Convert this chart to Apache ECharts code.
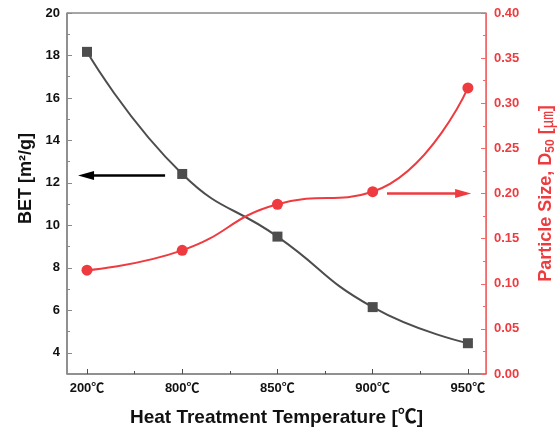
<!DOCTYPE html>
<html><head><meta charset="utf-8">
<script src="https://cdn.jsdelivr.net/npm/echarts@6/dist/echarts.min.js"></script>
<style>html,body{margin:0;padding:0;background:#fff}#c{width:557px;height:428px}</style>
</head><body><div id="c"></div>
<script>
const temps = ['200℃', '800℃', '850℃', '900℃', '950℃'];
const bet = [18.17, 12.42, 9.47, 6.15, 4.45];
const particle = [0.115, 0.137, 0.188, 0.202, 0.317];
const betTicks = [4, 6, 8, 10, 12, 14, 16, 18, 20];
const betMinor = [5, 7, 9, 11, 13, 15, 17, 19];
const psTicks = [0, 0.05, 0.1, 0.15, 0.2, 0.25, 0.3, 0.35, 0.4];
const psMinor = [0.025, 0.075, 0.125, 0.175, 0.225, 0.275, 0.325, 0.375];
const xIdx = temps.map((t, i) => i);
const xMinor = [0.5, 1.5, 2.5, 3.5];
const betArrow = [[0.82, 12.35], [-0.01, 12.35]];
const psArrow = [[3.15, 0.2], [3.95, 0.2]];

const F = "'Liberation Sans', Arial, 'Noto Sans CJK KR', sans-serif";
const GRAY = '#4d4d4d', RED = '#ee3b3f', AXG = '#8a8a8a', AXR = '#f26a6a';
const chart = echarts.init(document.getElementById('c'));
const xBase = {type: 'value', min: -0.21, max: 4.19, splitLine: {show: false}};
chart.setOption({
  animation: false,
  grid: {left: 67, right: 71, top: 13, bottom: 54, outerBoundsMode: 'none', containLabel: false,
    show: true, borderColor: GRAY, borderWidth: 1},
  xAxis: [
    Object.assign({}, xBase, {
      position: 'bottom',
      name: 'Heat Treatment Temperature [℃]', nameLocation: 'middle', nameGap: 34,
      nameTextStyle: {fontFamily: F, fontWeight: 'bold', fontSize: 19, color: '#111'},
      axisLine: {onZero: false, lineStyle: {color: AXG, width: 1.5}},
      axisTick: {inside: true, length: 5, lineStyle: {color: GRAY}, customValues: xIdx},
      axisLabel: {customValues: xIdx, formatter: v => temps[Math.round(v)], fontFamily: F, fontWeight: 'bold', fontSize: 13, color: '#111', margin: 8}
    }),
    Object.assign({}, xBase, {
      position: 'bottom',
      axisLine: {show: false, onZero: false},
      axisTick: {inside: true, length: 3, lineStyle: {color: GRAY}, customValues: xMinor},
      axisLabel: {show: false}
    })
  ],
  yAxis: [
    {type: 'value', min: 3, max: 20, position: 'left', splitLine: {show: false},
      name: 'BET [m²/g]', nameLocation: 'middle', nameGap: 27,
      nameTextStyle: {fontFamily: F, fontWeight: 'bold', fontSize: 18, color: '#111', padding: [0, 0, 0, 30]},
      axisLine: {show: true, onZero: false, lineStyle: {color: AXG, width: 1.5}},
      axisTick: {inside: true, length: 5, lineStyle: {color: AXG}, customValues: betTicks},
      axisLabel: {customValues: betTicks, fontFamily: F, fontWeight: 'bold', fontSize: 13, color: '#111', margin: 7}
    },
    {type: 'value', min: 0, max: 0.4, position: 'right', splitLine: {show: false},
      name: '{t|Particle Size, D}{s|50}{t| [}{u|㎛}{t|]}', nameLocation: 'middle', nameGap: 50,
      nameTextStyle: {color: RED, rich: {
        t: {fontFamily: F, fontWeight: 'bold', fontSize: 18, color: RED},
        s: {fontFamily: F, fontWeight: 'bold', fontSize: 12, color: RED, padding: [9, 0, 0, 0]},
        u: {fontFamily: "'Noto Sans CJK KR', sans-serif", fontSize: 17, color: RED}
      }},
      axisLine: {show: true, onZero: false, lineStyle: {color: AXR, width: 1}},
      axisTick: {inside: true, length: 5, lineStyle: {color: AXR}, customValues: psTicks},
      axisLabel: {customValues: psTicks, formatter: v => v.toFixed(2), fontFamily: F, fontWeight: 'bold', fontSize: 13, color: RED, margin: 8}
    },
    {type: 'value', min: 3, max: 20, position: 'left', splitLine: {show: false},
      axisLine: {show: false, onZero: false},
      axisTick: {inside: true, length: 3, lineStyle: {color: AXG}, customValues: betMinor},
      axisLabel: {show: false}
    },
    {type: 'value', min: 0, max: 0.4, position: 'right', splitLine: {show: false},
      axisLine: {show: false, onZero: false},
      axisTick: {inside: true, length: 3, lineStyle: {color: AXR}, customValues: psMinor},
      axisLabel: {show: false}
    }
  ],
  series: [
    {type: 'line', xAxisIndex: 0, yAxisIndex: 0, smooth: 0.5,
      data: bet.map((v, i) => [xIdx[i], v]),
      symbol: 'rect', symbolSize: 10, itemStyle: {color: GRAY},
      lineStyle: {color: GRAY, width: 2},
      markLine: {silent: true, symbol: ['none', 'triangle'], symbolSize: [9, 16], label: {show: false},
        lineStyle: {color: '#000', width: 2.5, type: 'solid'},
        data: [[{coord: betArrow[0]}, {coord: betArrow[1]}]]}
    },
    {type: 'line', xAxisIndex: 0, yAxisIndex: 1, smooth: 0.5,
      data: particle.map((v, i) => [xIdx[i], v]),
      symbol: 'circle', symbolSize: 11, itemStyle: {color: RED},
      lineStyle: {color: RED, width: 2},
      markLine: {silent: true, symbol: ['none', 'triangle'], symbolSize: [9, 16], label: {show: false},
        lineStyle: {color: RED, width: 2.5, type: 'solid'},
        data: [[{coord: psArrow[0]}, {coord: psArrow[1]}]]}
    }
  ]
});
</script></body></html>
